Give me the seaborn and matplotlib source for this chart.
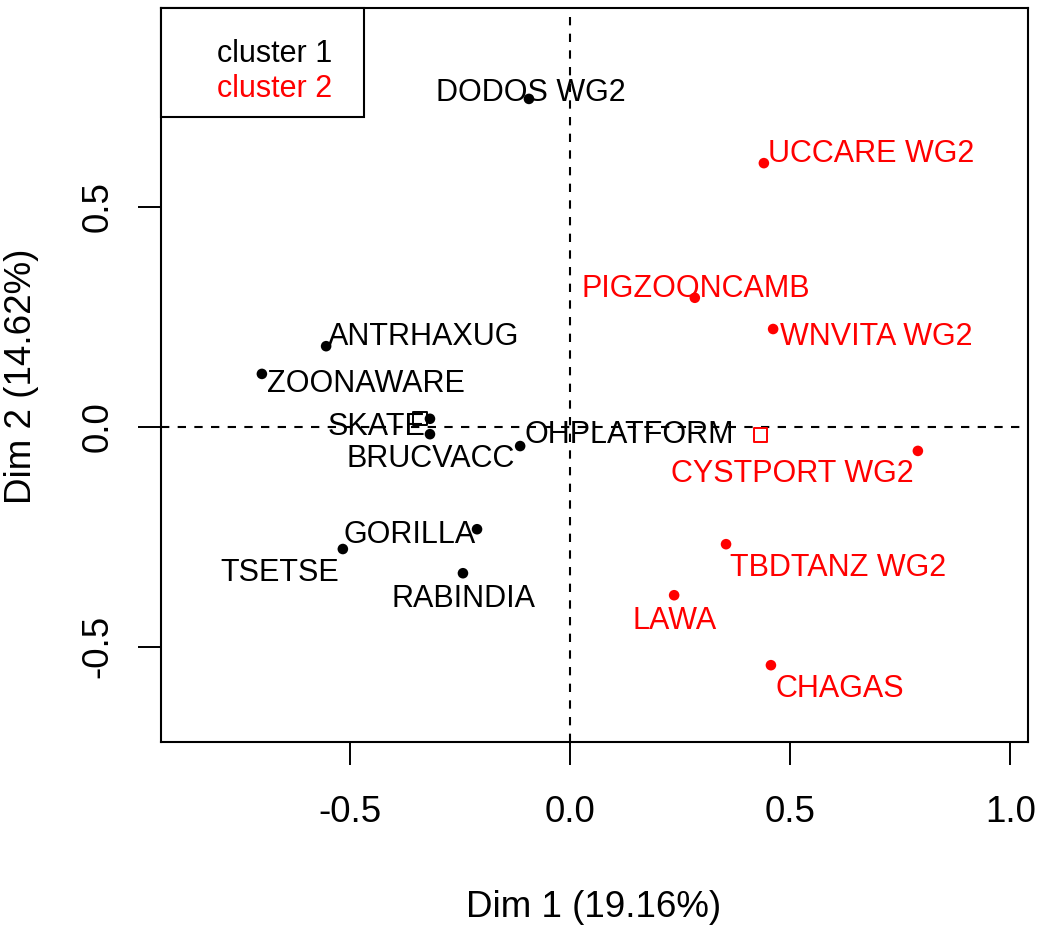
import matplotlib
matplotlib.use("Agg")
import matplotlib.pyplot as plt
import seaborn as sns
import pandas as pd
from matplotlib.patches import Rectangle

# ---- data ----
names = ["DODOS WG2", "ANTRHAXUG", "ZOONAWARE", "SKATE", "BRUCVACC", "OHPLATFORM",
         "GORILLA", "TSETSE", "RABINDIA",
         "UCCARE WG2", "PIGZOONCAMB", "WNVITA WG2", "CYSTPORT WG2", "TBDTANZ WG2",
         "LAWA", "CHAGAS"]
dim1 = [-0.094, -0.555, -0.701, -0.319, -0.319, -0.114, -0.212, -0.517, -0.244,
        0.440, 0.283, 0.461, 0.790, 0.354, 0.236, 0.456]
dim2 = [0.745, 0.183, 0.120, 0.018, -0.017, -0.044, -0.233, -0.278, -0.333,
        0.599, 0.293, 0.222, -0.055, -0.267, -0.383, -0.542]
cluster = ["cluster 1"] * 9 + ["cluster 2"] * 7
cluster_names = ["cluster 1", "cluster 2"]
x_ticks = [-0.5, 0.0, 0.5, 1.0]
y_ticks = [-0.5, 0.0, 0.5]
x_title = "Dim 1 (19.16%)"
y_title = "Dim 2 (14.62%)"

# label offsets (pixels: dx to text centre, dy downwards to baseline)
label_dx = [2, 98, 104, -53, 1, 109, -67.5, -63.5, 1, 107.5, 0.5, 103.5, -125.5, 112.5, 0.5, 68.5]
label_dy = [2.5, -1, 18, 16, 33, -3, 14, 32, 34, -1, -1, 16, 31, 32, 34, 32]

palette = {"cluster 1": "black", "cluster 2": "red"}

df = pd.DataFrame({"name": names, "Dim1": dim1, "Dim2": dim2, "cluster": cluster})
centers = df.groupby("cluster", as_index=False)[["Dim1", "Dim2"]].mean()

sns.set_theme(style="ticks")
plt.rcParams["font.family"] = ["Liberation Sans", "DejaVu Sans"]
plt.rcParams["lines.scale_dashes"] = False

W, H = 1041, 927
fig = plt.figure(figsize=(W / 100, H / 100), dpi=100)
L, R, T, B = 160.7, 1028.3, 8.0, 741.7
ax = fig.add_axes([L / W, (H - B) / H, (R - L) / W, (B - T) / H])

ax.axhline(0, color="black", lw=1.5, ls=(0, (6, 6)), zorder=1)
ax.axvline(0, color="black", lw=1.5, ls=(0, (6, 6)), zorder=1)

sns.scatterplot(data=df, x="Dim1", y="Dim2", hue="cluster", palette=palette,
                s=58, linewidth=0, legend=False, ax=ax, zorder=3)
sns.scatterplot(data=centers, x="Dim1", y="Dim2", hue="cluster", palette=palette,
                marker="s", s=90, facecolors="none", linewidth=1.4,
                legend=False, ax=ax, zorder=3)
# make centre squares hollow with coloured edges
coll = ax.collections[-1]
coll.set_edgecolors([palette[c] for c in centers["cluster"]])
coll.set_facecolors("none")

for i, row in df.iterrows():
    ax.annotate(row["name"], (row["Dim1"], row["Dim2"]),
                xytext=(label_dx[i] * 0.72, -label_dy[i] * 0.72),
                textcoords="offset points", ha="center", va="baseline",
                fontsize=22, color=palette[row["cluster"]], zorder=4)

ax.set_xlim(-0.931, 1.041)
ax.set_ylim(-0.7159, 0.9516)
ax.set_xticks(x_ticks)
ax.set_xticklabels([f"{v:.1f}" for v in x_ticks])
ax.set_yticks(y_ticks)
ax.set_yticklabels([f"{v:.1f}" for v in y_ticks], rotation=90, va="center")
ax.tick_params(axis="both", length=16.5, width=1.4, color="black",
               labelsize=26.5, labelcolor="black")
ax.tick_params(axis="x", pad=22)
ax.tick_params(axis="y", pad=16)
for sp in ax.spines.values():
    sp.set_visible(True)
    sp.set_color("black")
    sp.set_linewidth(1.5)
ax.set_xlabel("")
ax.set_ylabel("")

# x axis title
fig.text(593.5 / W, 1 - 917 / H, x_title, ha="center", va="baseline",
         fontsize=26.5, color="black")
# y axis title, kept at the far left edge
fig.text(31 / W, 1 - 376 / H, y_title, ha="center", va="baseline",
         rotation=90, rotation_mode="anchor", fontsize=26.5, color="black")

# legend box
lw_px = 364 - L
lh_px = 117 - T
ax.add_patch(Rectangle((0, 1 - lh_px / (B - T)), lw_px / (R - L), lh_px / (B - T),
                       transform=ax.transAxes, facecolor="white", edgecolor="black",
                       linewidth=1.5, zorder=5, clip_on=False))
for name, base in zip(cluster_names, [61.7, 96.7]):
    ax.text((217 - L) / (R - L), (B - base) / (B - T), name, transform=ax.transAxes,
            ha="left", va="baseline", fontsize=22, color=palette[name], zorder=6)

fig.savefig("out.png", dpi=100, facecolor="white")
